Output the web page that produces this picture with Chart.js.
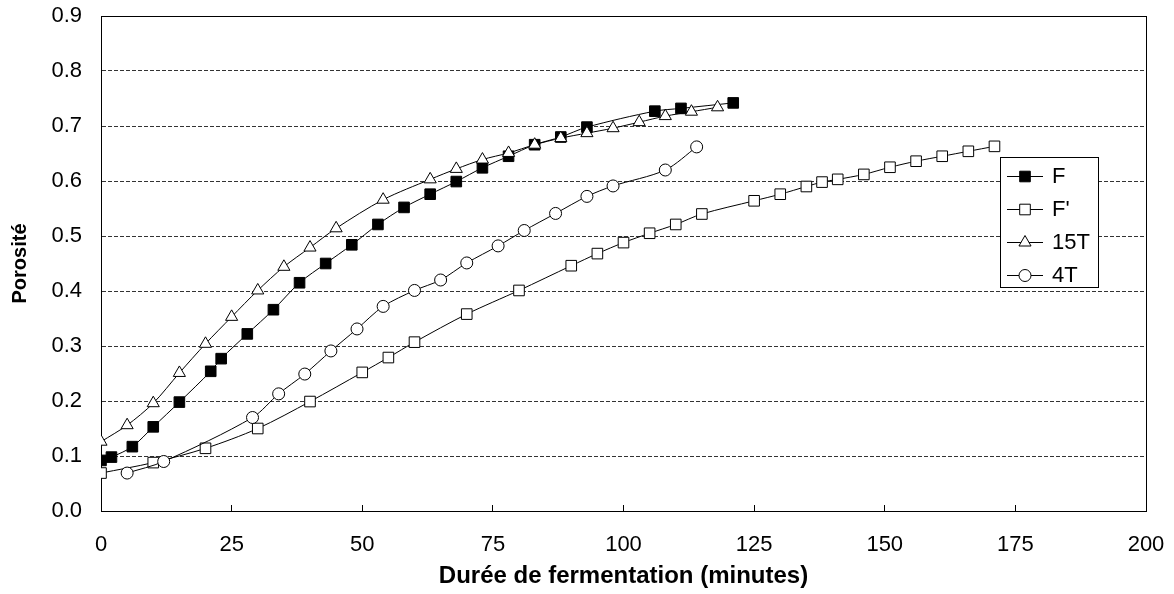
<!DOCTYPE html>
<html>
<head>
<meta charset="utf-8">
<script src="https://cdn.jsdelivr.net/npm/chart.js@4/dist/chart.umd.min.js"></script>
<style>
  body { margin: 0; background: #fff; }
  #wrap { width: 1174px; height: 594px; }
</style>
</head>
<body>
<div id="wrap"><canvas id="chart"></canvas></div>
<script>
// F (filled squares)
const fTime = [0, 2, 6, 10, 15, 21, 23, 28, 33, 38, 43, 48, 53, 58, 63, 68, 73, 78, 83, 88, 93, 106, 111, 121];
const fPoro = [0.092, 0.098, 0.117, 0.153, 0.198, 0.254, 0.277, 0.322, 0.366, 0.415, 0.450, 0.484, 0.521, 0.552, 0.576, 0.599, 0.624, 0.645, 0.666, 0.680, 0.698, 0.727, 0.732, 0.742];

// F' (open squares)
const fpTime = [0, 10, 20, 30, 40, 50, 55, 60, 70, 80, 90, 95, 100, 105, 110, 115, 125, 130, 135, 138, 141, 146, 151, 156, 161, 166, 171];
const fpPoro = [0.069, 0.088, 0.114, 0.150, 0.199, 0.252, 0.279, 0.307, 0.358, 0.401, 0.446, 0.468, 0.488, 0.505, 0.521, 0.540, 0.564, 0.576, 0.590, 0.598, 0.603, 0.612, 0.625, 0.636, 0.645, 0.654, 0.663];

// 15T (open triangles)
const t15Time = [0, 5, 10, 15, 20, 25, 30, 35, 40, 45, 54, 63, 68, 73, 78, 83, 88, 93, 98, 103, 108, 113, 118];
const t15Poro = [0.126, 0.156, 0.196, 0.251, 0.304, 0.353, 0.401, 0.444, 0.479, 0.514, 0.566, 0.603, 0.622, 0.639, 0.651, 0.666, 0.678, 0.687, 0.696, 0.707, 0.718, 0.726, 0.734];

// 4T (open circles)
const t4Time = [5, 12, 29, 34, 39, 44, 49, 54, 60, 65, 70, 76, 81, 87, 93, 98, 108, 114];
const t4Poro = [0.069, 0.090, 0.170, 0.213, 0.249, 0.291, 0.331, 0.372, 0.401, 0.420, 0.451, 0.482, 0.510, 0.541, 0.572, 0.591, 0.620, 0.662];

const seriesNames = ["F", "F'", "15T", "4T"];
const xTitle = "Durée de fermentation (minutes)";
const yTitle = "Porosité";

const FONT = "'Liberation Sans', Arial, sans-serif";

const toPoints = (xs, ys) => xs.map((x, i) => ({ x: x, y: ys[i] }));

const makeSet = (label, xs, ys, style, fill, radius, order) => ({
    label: label,
    data: toPoints(xs, ys),
    borderColor: "#000",
    borderWidth: 1,
    tension: 0.3,
    fill: false,
    pointStyle: style,
    pointRadius: radius,
    pointHoverRadius: radius,
    pointBackgroundColor: fill,
    pointBorderColor: "#000",
    pointBorderWidth: 1,
    order: order,
});

const frame = {
    id: "frame",
    beforeDatasetsDraw(chart) {
        const { ctx, chartArea: a } = chart;
        ctx.save();
        ctx.strokeStyle = "#000";
        ctx.lineWidth = 1;
        ctx.strokeRect(Math.round(a.left) + 0.5, Math.round(a.top) + 0.5,
            Math.round(a.right - a.left), Math.round(a.bottom - a.top));
        ctx.restore();
    },
};

const boxLegend = {
    id: "boxLegend",
    afterDraw(chart) {
        const ctx = chart.ctx;
        const left = 1000, top = 157, w = 98, h = 130;
        ctx.save();
        ctx.fillStyle = "#fff";
        ctx.fillRect(left, top, w, h);
        ctx.strokeStyle = "#000";
        ctx.lineWidth = 1;
        ctx.strokeRect(left + 0.5, top + 0.5, w, h);
        ctx.font = "22px " + FONT;
        ctx.textBaseline = "middle";
        chart.data.datasets.forEach((ds, i) => {
            const y = top + 19 + i * 33;
            ctx.strokeStyle = "#000";
            ctx.lineWidth = 1;
            ctx.beginPath();
            ctx.moveTo(left + 7, y + 0.5);
            ctx.lineTo(left + 43, y + 0.5);
            ctx.stroke();
            ctx.fillStyle = ds.pointBackgroundColor;
            Chart.helpers.drawPoint(ctx, {
                pointStyle: ds.pointStyle,
                radius: ds.pointRadius,
                rotation: 0,
                borderWidth: 1,
            }, left + 25, y + 0.5);
            ctx.fillStyle = "#000";
            ctx.fillText(ds.label, left + 52, y + 1);
        });
        ctx.restore();
    },
};

new Chart(document.getElementById("chart"), {
    type: "line",
    data: {
        datasets: [
            makeSet(seriesNames[0], fTime, fPoro, "rect", "#000", 7.5, 1),
            makeSet(seriesNames[1], fpTime, fpPoro, "rect", "#fff", 7.5, 3),
            makeSet(seriesNames[2], t15Time, t15Poro, "triangle", "#fff", 7, 0),
            makeSet(seriesNames[3], t4Time, t4Poro, "circle", "#fff", 6, 2),
        ],
    },
    options: {
        responsive: true,
        maintainAspectRatio: false,
        animation: false,
        layout: { padding: { left: 0, right: 28, top: 16, bottom: 0 } },
        scales: {
            x: {
                type: "linear",
                min: 0,
                max: 200,
                afterFit: (s) => {
                    s.height = 83;
                    s.paddingLeft = 0;
                    s.paddingRight = 0;
                },
                ticks: {
                    stepSize: 25,
                    padding: 27,
                    color: "#000",
                    font: { family: FONT, size: 22 },
                },
                grid: {
                    drawOnChartArea: false,
                    drawTicks: true,
                    tickLength: -6,
                    color: "#000",
                },
                border: { display: true, color: "#000", width: 1 },
                title: {
                    display: true,
                    text: xTitle,
                    color: "#000",
                    font: { family: FONT, size: 24, weight: "bold" },
                    padding: { top: 0, bottom: 3 },
                },
            },
            y: {
                min: 0,
                max: 0.9,
                afterFit: (s) => {
                    s.width = 101;
                    s.paddingTop = 0;
                    s.paddingBottom = 0;
                },
                ticks: {
                    stepSize: 0.1,
                    padding: 19,
                    color: "#000",
                    font: { family: FONT, size: 22 },
                    callback: (v) => v.toFixed(1),
                },
                grid: {
                    drawTicks: false,
                    color: "#333",
                    lineWidth: 1,
                },
                border: { display: true, color: "#000", width: 1, dash: [4, 2] },
                title: {
                    display: true,
                    text: yTitle,
                    color: "#000",
                    font: { family: FONT, size: 20, weight: "bold" },
                    padding: { top: 8, bottom: 0 },
                },
            },
        },
        plugins: {
            legend: { display: false },
            tooltip: { enabled: false },
        },
    },
    plugins: [frame, boxLegend],
});
</script>
</body>
</html>
